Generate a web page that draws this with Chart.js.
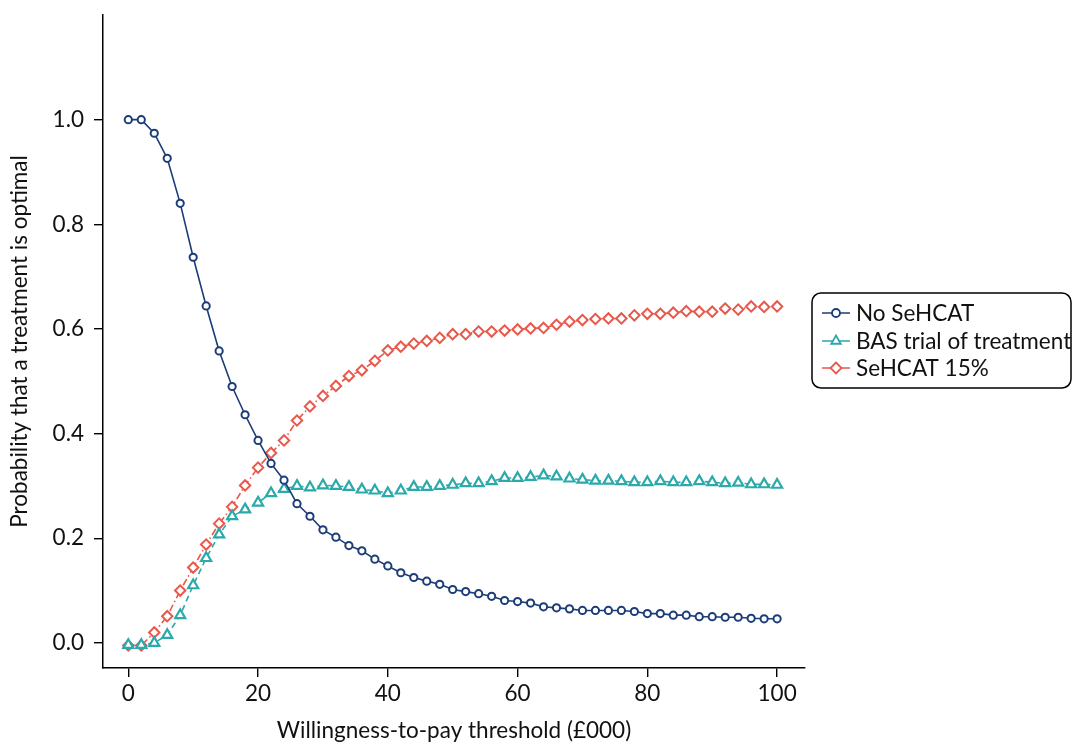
<!DOCTYPE html>
<html>
<head>
<meta charset="utf-8">
<script src="https://cdn.jsdelivr.net/npm/chart.js@4"></script>
<style>
  html, body { margin: 0; padding: 0; background: #fff; }
  #wrap { width: 1073px; height: 744px; }
</style>
</head>
<body>
<div id="wrap"><canvas id="ceac" width="1073" height="744"></canvas></div>
<script>
// willingness-to-pay threshold (£000)
const wtp = [0, 2, 4, 6, 8, 10, 12, 14, 16, 18, 20, 22, 24, 26, 28, 30, 32, 34, 36, 38, 40,
  42, 44, 46, 48, 50, 52, 54, 56, 58, 60, 62, 64, 66, 68, 70, 72, 74, 76, 78, 80,
  82, 84, 86, 88, 90, 92, 94, 96, 98, 100];

const noSehcat = [1.0, 1.0, 0.974, 0.926, 0.84, 0.737, 0.644, 0.558, 0.49, 0.436, 0.387,
  0.343, 0.311, 0.266, 0.242, 0.216, 0.202, 0.186, 0.176, 0.16, 0.147,
  0.134, 0.125, 0.118, 0.112, 0.102, 0.098, 0.094, 0.089, 0.081, 0.079,
  0.076, 0.069, 0.067, 0.065, 0.062, 0.062, 0.062, 0.062, 0.06, 0.056,
  0.056, 0.053, 0.053, 0.05, 0.05, 0.049, 0.049, 0.047, 0.046, 0.046];

const basTrial = [-0.004, -0.004, 0.0, 0.015, 0.053, 0.11, 0.162, 0.207, 0.242, 0.255, 0.268,
  0.286, 0.294, 0.30, 0.297, 0.301, 0.30, 0.298, 0.293, 0.291, 0.286,
  0.291, 0.298, 0.298, 0.30, 0.302, 0.305, 0.305, 0.309, 0.315, 0.315,
  0.317, 0.32, 0.318, 0.314, 0.312, 0.31, 0.31, 0.309, 0.307, 0.307,
  0.309, 0.307, 0.307, 0.309, 0.307, 0.305, 0.306, 0.303, 0.303, 0.302];

const sehcat15 = [-0.005, -0.005, 0.02, 0.051, 0.10, 0.144, 0.188, 0.228, 0.26, 0.301, 0.335,
  0.363, 0.387, 0.425, 0.452, 0.472, 0.491, 0.51, 0.521, 0.539, 0.559,
  0.566, 0.572, 0.577, 0.583, 0.59, 0.59, 0.595, 0.595, 0.597, 0.599,
  0.601, 0.602, 0.608, 0.614, 0.617, 0.619, 0.62, 0.62, 0.626, 0.629,
  0.629, 0.631, 0.634, 0.633, 0.633, 0.639, 0.637, 0.643, 0.642, 0.643];

const xTicks = [0, 20, 40, 60, 80, 100];
const yTicks = [0, 0.2, 0.4, 0.6, 0.8, 1.0];

const seriesNames = ['No SeHCAT', 'BAS trial of treatment', 'SeHCAT 15%'];
const navy = '#1c3d78', teal = '#2ba9ab', red = '#e8584b';
const fontSize = 22.5;

function pts(ys) {
  return wtp.map((x, i) => ({ x: x, y: ys[i] }));
}

// little marker drawer for the legend box
function marker(ctx, style, x, y, r) {
  ctx.beginPath();
  if (style === 'circle') {
    ctx.arc(x, y, r, 0, Math.PI * 2);
  } else if (style === 'triangle') {
    ctx.moveTo(x, y - r);
    ctx.lineTo(x + r * 0.866, y + r * 0.5);
    ctx.lineTo(x - r * 0.866, y + r * 0.5);
    ctx.closePath();
  } else {
    ctx.moveTo(x, y - r);
    ctx.lineTo(x + r, y);
    ctx.lineTo(x, y + r);
    ctx.lineTo(x - r, y);
    ctx.closePath();
  }
  ctx.fill();
  ctx.stroke();
}

const boxLegend = {
  id: 'boxLegend',
  afterDraw(chart) {
    const ctx = chart.ctx;
    const bx = 812, by = 293, bw = 259, bh = 95;
    ctx.save();
    ctx.strokeStyle = '#000';
    ctx.lineWidth = 1.5;
    ctx.beginPath();
    ctx.roundRect(bx, by, bw, bh, 9);
    ctx.stroke();

    const rows = [313, 341, 368];
    chart.data.datasets.forEach((ds, i) => {
      const y = rows[i];
      ctx.strokeStyle = ds.borderColor;
      ctx.lineWidth = 1.5;
      ctx.setLineDash([]);
      ctx.beginPath();
      ctx.moveTo(822, y);
      ctx.lineTo(850, y);
      ctx.stroke();
      ctx.fillStyle = '#fff';
      ctx.lineWidth = 1.8;
      marker(ctx, ds.pointStyle, 836, y, ds.pointStyle === 'circle' ? 4 : 5.5);
      ctx.fillStyle = '#111';
      ctx.font = fontSize + 'px Lato';
      ctx.textBaseline = 'middle';
      ctx.textAlign = 'left';
      ctx.fillText(seriesNames[i], 856, y + 1);
    });
    ctx.restore();
  }
};

new Chart(document.getElementById('ceac'), {
  type: 'line',
  data: {
    datasets: [
      {
        label: seriesNames[0],
        data: pts(noSehcat),
        borderColor: navy,
        borderWidth: 1.6,
        pointStyle: 'circle',
        pointRadius: 3.6,
        pointBorderWidth: 2,
        pointBackgroundColor: '#fff',
        pointBorderColor: navy
      },
      {
        label: seriesNames[1],
        data: pts(basTrial),
        borderColor: teal,
        borderWidth: 1.6,
        borderDash: [6, 4],
        pointStyle: 'triangle',
        pointRadius: 5.8,
        pointBorderWidth: 2.2,
        pointBackgroundColor: '#fff',
        pointBorderColor: teal
      },
      {
        label: seriesNames[2],
        data: pts(sehcat15),
        borderColor: red,
        borderWidth: 1.6,
        borderDash: [7, 3, 1.5, 3],
        pointStyle: 'rectRot',
        pointRadius: 5.2,
        pointBorderWidth: 2,
        pointBackgroundColor: '#fff',
        pointBorderColor: red
      }
    ]
  },
  options: {
    responsive: false,
    animation: false,
    layout: { padding: { top: 15, right: 268, left: 0, bottom: 0 } },
    plugins: {
      legend: { display: false },
      tooltip: { enabled: false }
    },
    scales: {
      x: {
        type: 'linear',
        min: -3.9,
        max: 104.3,
        afterBuildTicks: (s) => { s.ticks = xTicks.map(v => ({ value: v })); },
        afterFit: (s) => { s.height = 76; s.paddingLeft = 0; s.paddingRight = 0; },
        grid: { drawOnChartArea: false, drawTicks: true, tickLength: 9, color: '#000', lineWidth: 1.4 },
        border: { color: '#000', width: 1.5 },
        ticks: { color: '#111', font: { family: 'Lato', size: fontSize }, padding: 3, maxRotation: 0 },
        title: {
          display: true,
          text: 'Willingness-to-pay threshold (£000)',
          color: '#111',
          font: { family: 'Lato', size: fontSize },
          padding: { top: 0, bottom: 0 }
        }
      },
      y: {
        min: -0.048,
        max: 1.2,
        afterBuildTicks: (s) => { s.ticks = yTicks.map(v => ({ value: v })); },
        afterFit: (s) => { s.width = 103; s.paddingTop = 0; s.paddingBottom = 0; },
        grid: { drawOnChartArea: false, drawTicks: true, tickLength: 9, color: '#000', lineWidth: 1.4 },
        border: { color: '#000', width: 1.5 },
        ticks: {
          color: '#111',
          font: { family: 'Lato', size: fontSize },
          padding: 10,
          callback: (v) => v.toFixed(1)
        },
        title: {
          display: true,
          text: 'Probability that a treatment is optimal',
          color: '#111',
          font: { family: 'Lato', size: fontSize },
          padding: { top: 6, bottom: 0 }
        }
      }
    }
  },
  plugins: [boxLegend]
});
</script>
</body>
</html>
